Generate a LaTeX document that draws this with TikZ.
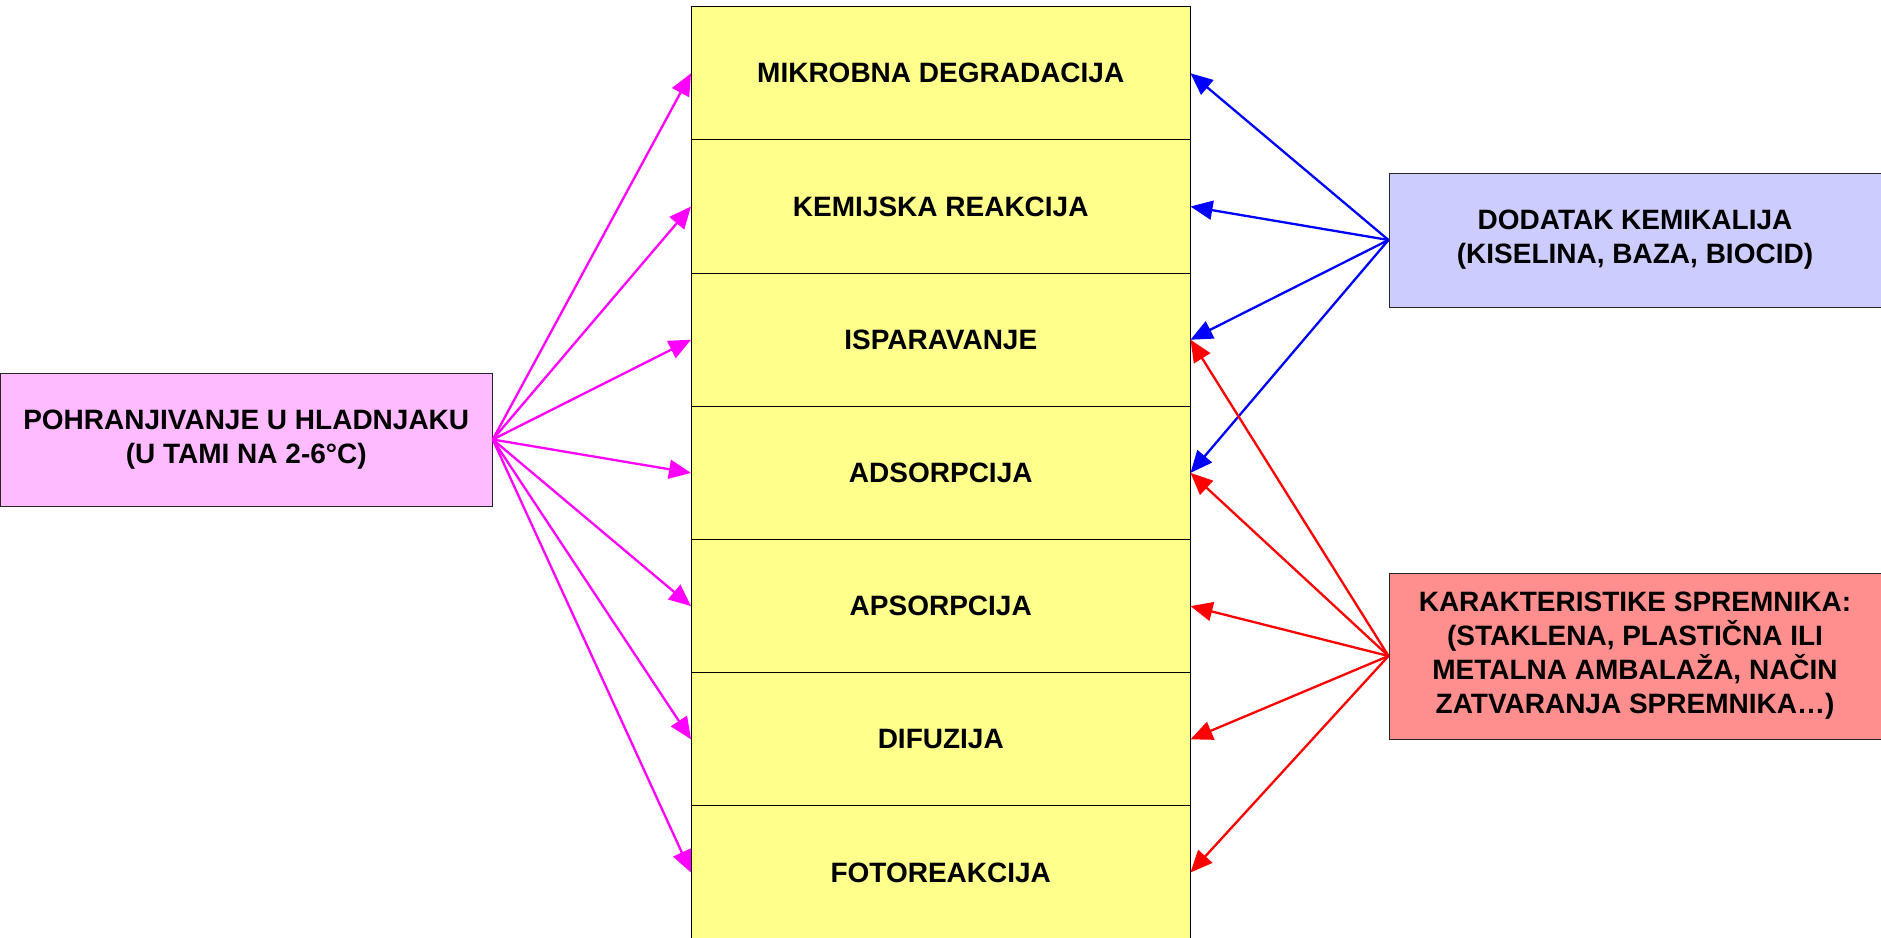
\documentclass[tikz,border=0pt]{standalone}
\usepackage{fontspec}
\setmainfont{Liberation Sans}
\usetikzlibrary{arrows.meta}
\definecolor{rowyellow}{RGB}{255,255,140}
\definecolor{storepink}{RGB}{255,187,255}
\definecolor{chemblue}{RGB}{204,204,255}
\definecolor{contred}{RGB}{255,143,143}
\definecolor{storeline}{RGB}{255,0,255}
\definecolor{chemline}{RGB}{0,0,255}
\definecolor{contline}{RGB}{255,0,0}
\tikzset{
  stage/.style={draw=black, line width=1pt, fill=rowyellow, inner sep=0pt,
    minimum width=498.5pt, minimum height=133.2pt},
  factor/.style={draw=black!85, line width=1pt, inner sep=0pt, align=center,
    minimum width=492pt},
  feed/.style={-{Triangle[length=22pt,width=19pt]}, line width=2.3pt},
}
\begin{document}
\begin{tikzpicture}[x=1pt, y=-1pt, font=\bfseries\fontsize{28}{34}\selectfont]
\useasboundingbox (0,0) rectangle (1881,937);

% column of processes
\foreach \t [count=\i] in {MIKROBNA DEGRADACIJA, KEMIJSKA REAKCIJA, ISPARAVANJE,
    ADSORPCIJA, APSORPCIJA, DIFUZIJA, FOTOREAKCIJA}
  \node[stage] (r\i) at (940.75, {6.7+(\i-0.5)*133.2}) {\t};

% influencing factors
\node[factor, fill=storepink, minimum height=133pt] (store) at (246.25, 439.5)
  {POHRANJIVANJE U HLADNJAKU\\(U TAMI NA 2-6°C)};
\node[factor, fill=chemblue, minimum height=134pt] (chem) at (1635, 240)
  {DODATAK KEMIKALIJA\\(KISELINA, BAZA, BIOCID)};
\node[factor, fill=contred, minimum height=166pt] (cont) at (1635, 656)
  {KARAKTERISTIKE SPREMNIKA:\\(STAKLENA, PLASTIČNA ILI\\METALNA AMBALAŽA, NAČIN\\ZATVARANJA SPREMNIKA…)};

% connectors
\foreach \i in {1,...,7}
  \draw[feed, storeline] (store.east) -- (r\i.west);
\foreach \i in {1,...,4}
  \draw[feed, chemline] (chem.west) -- (r\i.east);
\foreach \i in {3,...,7}
  \draw[feed, contline] (cont.west) -- (r\i.east);
\end{tikzpicture}
\end{document}
